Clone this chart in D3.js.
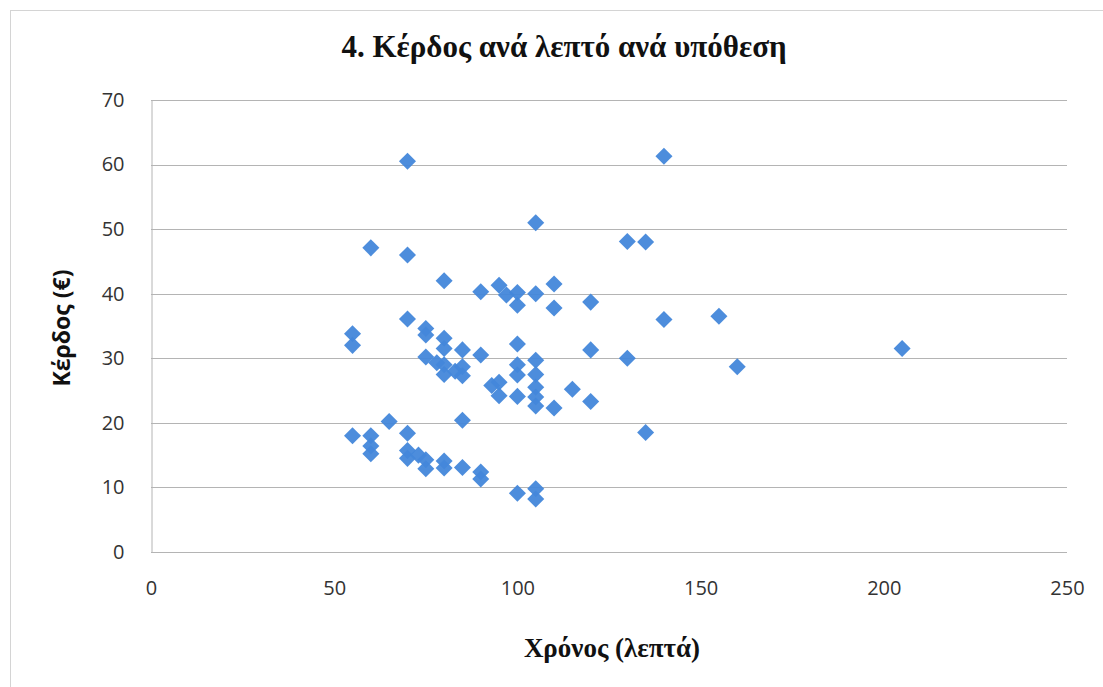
<!DOCTYPE html>
<html>
<head>
<meta charset="utf-8">
<script src="https://cdn.jsdelivr.net/npm/d3@7"></script>
<style>
  html, body { margin: 0; padding: 0; background: #ffffff; }
  svg { display: block; }
</style>
</head>
<body>
<svg id="chart" width="1103" height="687"></svg>
<script>
// Time spent per case (minutes)
const minutes = [
  70, 140, 105, 60, 70, 130, 135,
  80, 90, 95, 97, 100, 100, 105, 110, 110, 120,
  140, 155, 70, 75, 75, 55, 55, 80, 80, 85, 90,
  75, 78, 80, 80, 83, 85, 85,
  100, 100, 100, 105, 105, 105, 105, 105,
  120, 130, 160, 205,
  93, 95, 95, 100, 110, 115, 120, 135,
  65, 85, 55, 60, 60, 60, 70, 70, 70, 73, 75, 75,
  80, 80, 85, 90, 90, 100, 105, 105
];
// Profit per case (€)
const profit = [
  60.5, 61.3, 51.0, 47.1, 46.0, 48.1, 48.0,
  42.0, 40.3, 41.3, 39.8, 40.2, 38.2, 40.0, 41.5, 37.8, 38.7,
  36.0, 36.5, 36.1, 34.6, 33.6, 33.8, 32.0, 33.1, 31.5, 31.3, 30.5,
  30.2, 29.3, 29.0, 27.5, 28.0, 28.7, 27.3,
  32.2, 29.0, 27.4, 29.7, 27.5, 25.5, 24.0, 22.6,
  31.3, 30.0, 28.7, 31.5,
  25.8, 26.3, 24.2, 24.1, 22.3, 25.2, 23.3, 18.5,
  20.2, 20.4, 18.0, 18.0, 16.4, 15.2, 18.4, 15.7, 14.5, 15.0, 14.3, 12.9,
  14.1, 13.0, 13.1, 12.4, 11.3, 9.1, 9.8, 8.2
];

const xTicks = [0, 50, 100, 150, 200, 250];
const yTicks = [0, 10, 20, 30, 40, 50, 60, 70];

const titleText = "4. Κέρδος ανά λεπτό ανά υπόθεση";
const xTitle = "Χρόνος (λεπτά)";
const yTitle = "Κέρδος (€)";

const svg = d3.select("#chart");
const plot = { left: 151, right: 1067, top: 100, bottom: 552 };

const x = d3.scaleLinear().domain([0, 250]).range([plot.left, plot.right]);
const y = d3.scaleLinear().domain([0, 70]).range([plot.bottom, plot.top]);

// outer frame (left and top edges)
svg.append("line").attr("x1", 10.5).attr("x2", 10.5).attr("y1", 10).attr("y2", 687)
  .attr("stroke", "#d4d4d4").attr("stroke-width", 1);
svg.append("line").attr("x1", 10).attr("x2", 1103).attr("y1", 10.5).attr("y2", 10.5)
  .attr("stroke", "#d4d4d4").attr("stroke-width", 1);

// horizontal gridlines
svg.append("g").selectAll("line").data(yTicks).join("line")
  .attr("x1", plot.left).attr("x2", plot.right)
  .attr("y1", d => Math.round(y(d)) + 0.5).attr("y2", d => Math.round(y(d)) + 0.5)
  .attr("stroke", "#b4b4b4").attr("stroke-width", 1);

// y axis
const yAxis = svg.append("g")
  .attr("transform", `translate(${plot.left + 0.5},0)`)
  .call(d3.axisLeft(y).tickValues(yTicks).tickSize(0).tickPadding(27));
yAxis.select(".domain").attr("stroke", "#b4b4b4");
yAxis.selectAll("text")
  .attr("font-family", "'Open Sans', sans-serif").attr("font-size", 20)
  .attr("fill", "#333");

// x axis
const xAxis = svg.append("g")
  .attr("transform", `translate(0,${plot.bottom})`)
  .call(d3.axisBottom(x).tickValues(xTicks).tickSize(0).tickPadding(29));
xAxis.select(".domain").remove();
xAxis.selectAll("text")
  .attr("font-family", "'Open Sans', sans-serif").attr("font-size", 20)
  .attr("fill", "#333");

// markers
const diamond = d3.symbol().type(d3.symbolDiamond2).size(185);
svg.append("g").selectAll("path").data(minutes.map((m, i) => [m, profit[i]])).join("path")
  .attr("d", diamond)
  .attr("transform", d => `translate(${x(d[0])},${y(d[1])})`)
  .attr("fill", "#4387da")
  .attr("fill-opacity", 0.95);

// titles
svg.append("text")
  .attr("x", 564).attr("y", 57)
  .attr("text-anchor", "middle")
  .attr("font-family", "'Liberation Serif', 'Times New Roman', serif")
  .attr("font-weight", "bold").attr("font-size", 31)
  .attr("fill", "#111")
  .text(titleText);

svg.append("text")
  .attr("x", 612).attr("y", 657)
  .attr("text-anchor", "middle")
  .attr("font-family", "'Liberation Serif', 'Times New Roman', serif")
  .attr("font-weight", "bold").attr("font-size", 27)
  .attr("fill", "#111")
  .text(xTitle);

svg.append("text")
  .attr("transform", "translate(70,328) rotate(-90)")
  .attr("text-anchor", "middle")
  .attr("font-family", "'Open Sans', sans-serif")
  .attr("font-weight", "bold").attr("font-size", 23)
  .attr("fill", "#111")
  .text(yTitle);
</script>
</body>
</html>
